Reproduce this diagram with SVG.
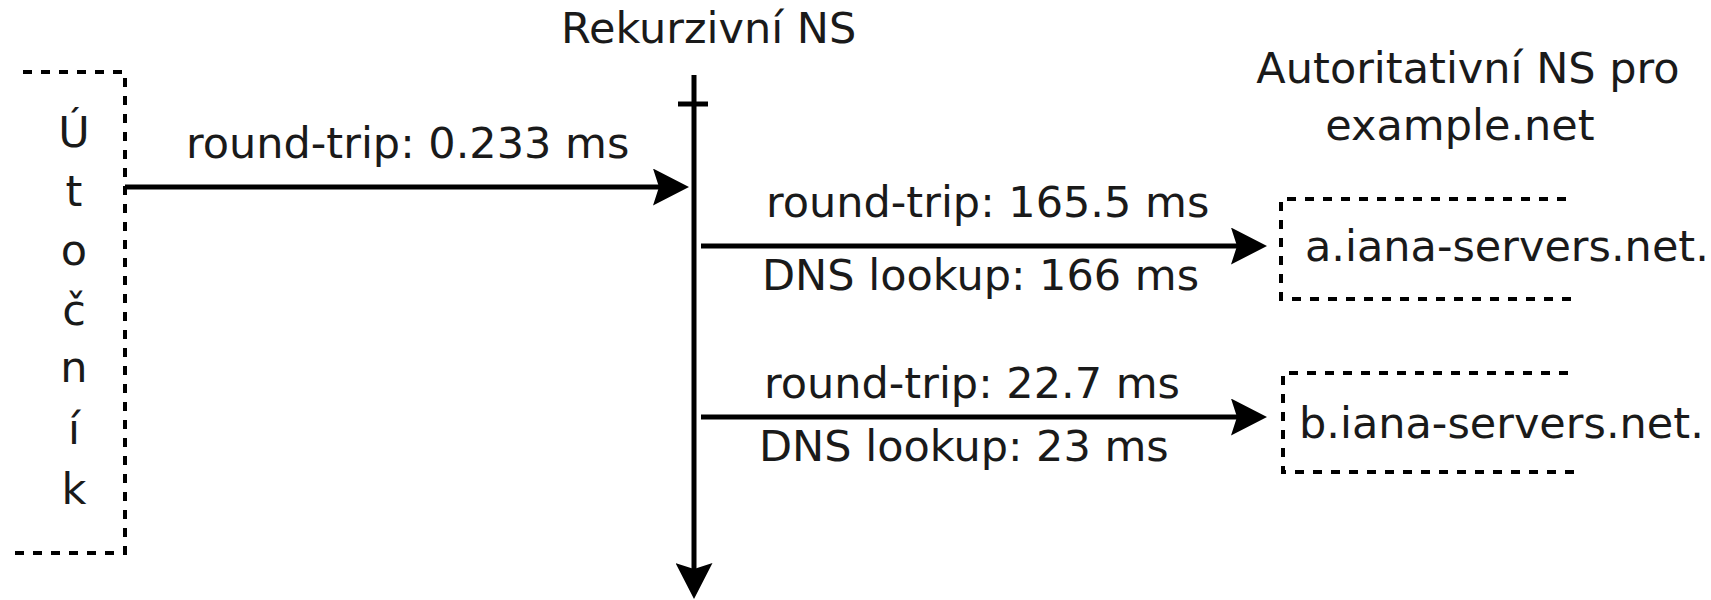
<svg xmlns="http://www.w3.org/2000/svg" width="1711" height="600" viewBox="0 0 1711 600">
<style>
text{font-family:"DejaVu Sans",sans-serif;font-size:43px;fill:#1a1a1a}
.dash{fill:none;stroke:#000;stroke-width:4;stroke-dasharray:9 9}
.ln{fill:none;stroke:#000;stroke-width:5}
</style>
<defs>
<marker id="ah" markerUnits="userSpaceOnUse" viewBox="0 0 36 37" markerWidth="36" markerHeight="37" refX="6" refY="18.5" orient="auto">
<path d="M36,18.5 L0,0 L6,18.5 L0,37 Z" fill="#000"/>
</marker>
</defs>
<rect width="1711" height="600" fill="#fff"/>
<g id="utocnik">
<path class="dash" d="M23,72 H125 V553 H14"/>
<text x="74" y="147" text-anchor="middle">Ú</text>
<text x="74" y="206" text-anchor="middle">t</text>
<text x="74" y="265" text-anchor="middle">o</text>
<text x="74" y="325" text-anchor="middle">č</text>
<text x="74" y="382" text-anchor="middle">n</text>
<text x="74" y="444" text-anchor="middle">í</text>
<text x="74" y="504" text-anchor="middle">k</text>
</g>
<g id="rekurzivni">
<text x="561" y="43">Rekurzivní NS</text>
</g>
<g id="autoritativni">
<text x="1468" y="83" text-anchor="middle">Autoritativní NS pro</text>
<text x="1460" y="140" text-anchor="middle">example.net</text>
</g>
<g id="a-iana">
<path class="dash" d="M1566,199 H1281 V299 H1577"/>
<text x="1305" y="261">a.iana-servers.net.</text>
</g>
<g id="b-iana">
<path class="dash" d="M1568,373 H1283 V472 H1578"/>
<text x="1299" y="438">b.iana-servers.net.</text>
</g>
<g id="connectors">
<line class="ln" x1="694" y1="75" x2="694" y2="569" marker-end="url(#ah)"/>
<line class="ln" x1="678" y1="104" x2="708" y2="104"/>
<line class="ln" x1="125" y1="187" x2="659" y2="187" marker-end="url(#ah)"/>
<line class="ln" x1="701" y1="246" x2="1237" y2="246" marker-end="url(#ah)"/>
<line class="ln" x1="701" y1="417" x2="1237" y2="417" marker-end="url(#ah)"/>
<text x="186" y="158">round-trip: 0.233 ms</text>
<text x="766" y="217">round-trip: 165.5 ms</text>
<text x="762" y="290">DNS lookup: 166 ms</text>
<text x="764" y="398">round-trip: 22.7 ms</text>
<text x="759" y="461">DNS lookup: 23 ms</text>
</g>
</svg>
